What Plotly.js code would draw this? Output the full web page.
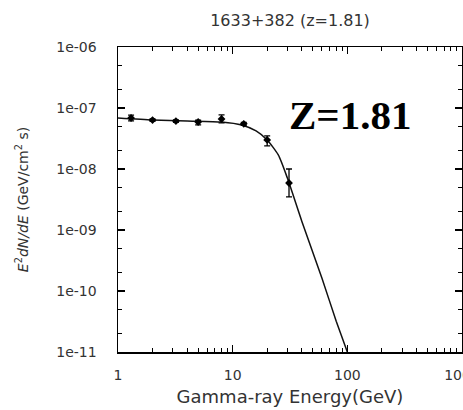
<!DOCTYPE html>
<html>
<head>
<meta charset="utf-8">
<script src="https://cdn.plot.ly/plotly-3.0.1.min.js"></script>
<style>html,body{margin:0;padding:0;background:#fff;overflow:hidden;}#chart{width:480px;height:410px;}</style>
</head>
<body>
<div id="chart"></div>
<script>
// Measured data points (energy in GeV, E^2 dN/dE in GeV/cm^2 s)
const energy = [1.3, 2.0, 3.2, 5.0, 8.0, 12.5, 20, 31];
const flux = [6.85e-8, 6.35e-8, 6.1e-8, 5.9e-8, 6.6e-8, 5.5e-8, 3.0e-8, 5.9e-9];
const errPlus = [0.8e-8, 0.3e-8, 0.3e-8, 0.4e-8, 1.1e-8, 0.3e-8, 0.5e-8, 4.1e-9];
const errMinus = [0.7e-8, 0.3e-8, 0.3e-8, 0.6e-8, 0.9e-8, 0.3e-8, 0.6e-8, 2.4e-9];

// Model curve
const modelEnergy = [1, 2, 4, 8, 12, 16, 20, 25, 30, 40, 60, 80, 100, 103];
const modelFlux = [6.85e-8, 6.35e-8, 6.12e-8, 5.89e-8, 5.26e-8, 4.2e-8, 2.99e-8, 1.7e-8, 7.1e-9, 1.41e-9, 1.63e-10, 3.2e-11, 1.0e-11, 8.5e-12];

// Tick labels
const yTickVals = [1e-11, 1e-10, 1e-9, 1e-8, 1e-7, 1e-6];
const yTickText = ["1e-11", "1e-10", "1e-09", "1e-08", "1e-07", "1e-06"];
const yMinorVals = [2e-11, 5e-11, 2e-10, 5e-10, 2e-9, 5e-9, 2e-8, 5e-8, 2e-7, 5e-7];
const xTickVals = [1, 10, 100, 1000];
const xTickText = ["1", "10", "100", "1000"];

const chartTitle = "1633+382 (z=1.81)";
const xTitle = "Gamma-ray Energy(GeV)";
const yTitle = "<i>E</i><sup>2</sup><i>dN/dE</i> (GeV/cm<sup>2</sup> s)";
const label = "Z=1.81";

const fam = "DejaVu Sans, Arial, sans-serif";

const traces = [
  {
    x: modelEnergy, y: modelFlux, type: "scatter", mode: "lines",
    line: {color: "#111", width: 1.5, shape: "spline", smoothing: 0.6},
    hoverinfo: "skip", showlegend: false
  },
  {
    x: energy, y: flux, type: "scatter", mode: "markers",
    marker: {symbol: "diamond", size: 6, color: "#000"},
    error_y: {type: "data", symmetric: false, array: errPlus, arrayminus: errMinus,
              color: "#000", thickness: 1.3, width: 3},
    showlegend: false
  }
];

const layout = {
  width: 480, height: 410,
  margin: {l: 118, r: 18, t: 47, b: 58},
  paper_bgcolor: "#fff", plot_bgcolor: "#fff",
  showlegend: false,
  title: {text: chartTitle, font: {family: fam, size: 16, color: "#333"},
          x: 118 / 480 + 0.5 * 344 / 480, xanchor: "center", y: 1 - 20 / 410, yanchor: "middle"},
  xaxis: {
    type: "log", range: [0, 3],
    tickmode: "array", tickvals: xTickVals, ticktext: xTickText,
    ticks: "inside", ticklen: 7, tickwidth: 1.2, tickcolor: "#000",
    showline: true, linecolor: "#000", linewidth: 1.5, mirror: "allticks",
    showgrid: false, zeroline: false,
    tickfont: {family: fam, size: 14, color: "#333"},
    ticklabelstandoff: 10,
    minor: {dtick: "D1", ticks: "inside", ticklen: 4, tickcolor: "#000", tickwidth: 1, showgrid: false},
    title: {text: xTitle, font: {family: fam, size: 18, color: "#333"}, standoff: 8}
  },
  yaxis: {
    type: "log", range: [-11, -6],
    tickmode: "array", tickvals: yTickVals, ticktext: yTickText,
    ticks: "inside", ticklen: 7, tickwidth: 1.2, tickcolor: "#000",
    showline: true, linecolor: "#000", linewidth: 1.5, mirror: "allticks",
    showgrid: false, zeroline: false,
    tickfont: {family: fam, size: 14, color: "#333"},
    ticklabelstandoff: 17,
    minor: {tickmode: "array", tickvals: yMinorVals, ticks: "inside", ticklen: 4, tickcolor: "#000", tickwidth: 1, showgrid: false},
    title: {text: yTitle, font: {family: fam, size: 14, color: "#333"}, standoff: 24}
  },
  annotations: [
    {text: "<b>" + label + "</b>", xref: "paper", yref: "paper", x: (350 - 118) / 344, y: (352 - 115) / 305,
     xanchor: "center", yanchor: "middle", showarrow: false,
     font: {family: "Liberation Serif, Times New Roman, serif", size: 41, color: "#000"}}
  ]
};

Plotly.newPlot("chart", traces, layout, {displayModeBar: false, staticPlot: true});
</script>
</body>
</html>
